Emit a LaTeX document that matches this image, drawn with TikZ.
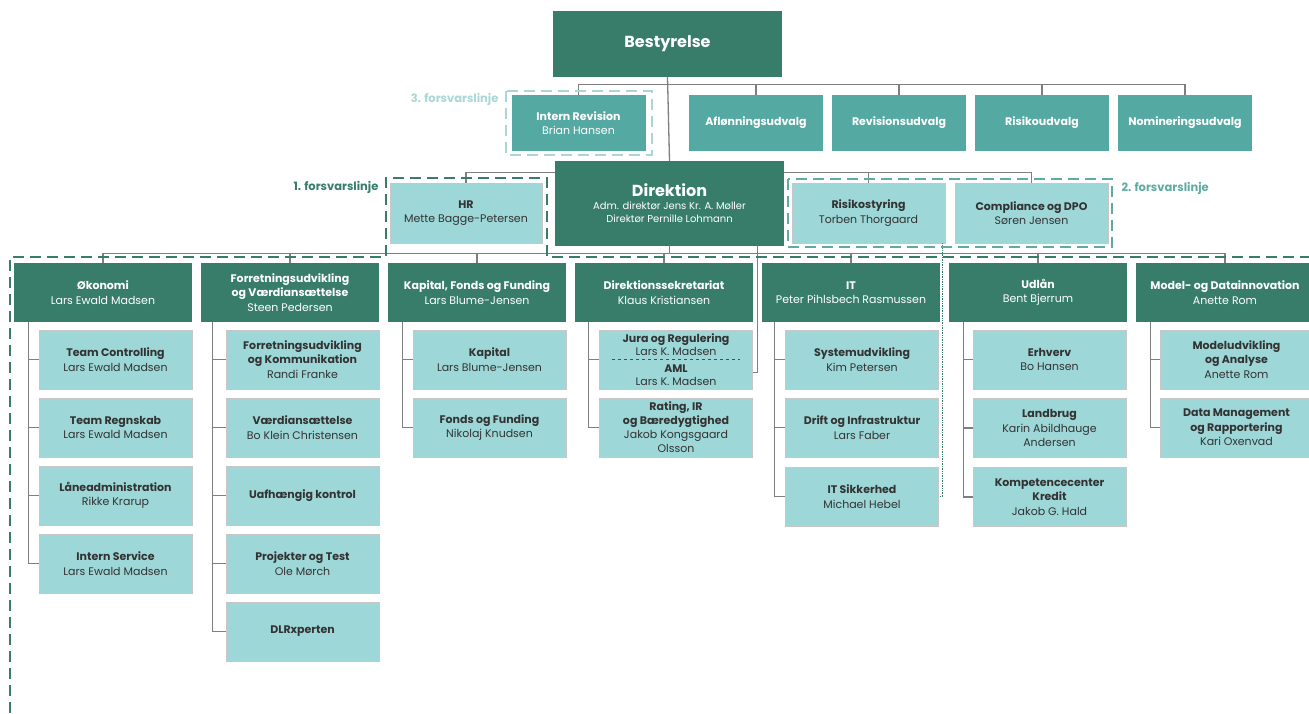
\documentclass[tikz,border=0pt]{standalone}
\usepackage{fontspec}
\setmainfont{Poppins}
\usepackage{tikz}
\usetikzlibrary{calc}
\usetikzlibrary{backgrounds}
\definecolor{darkteal}{HTML}{377D6A}
\definecolor{midteal}{HTML}{55A9A3}
\definecolor{lightteal}{HTML}{9DD7D8}
\definecolor{lineteal}{HTML}{5EABA3}
\definecolor{paleteal}{HTML}{A9D6D6}
\definecolor{conngray}{HTML}{7F7F7F}
\definecolor{textgray}{HTML}{333333}

\begin{document}
\begin{tikzpicture}[x=1pt, y=-1pt,
    board/.style={fill=darkteal, text=white, align=center, minimum width=229pt, minimum height=66pt, font=\fontsize{16}{19}\selectfont\bfseries},
    dirbox/.style={fill=darkteal, text=white, align=center, minimum width=229pt, minimum height=85pt, inner sep=1pt, font=\fontsize{10}{13}\selectfont},
    udv/.style={fill=midteal, text=white, align=center, minimum width=134pt, minimum height=56pt, font=\fontsize{11}{14}\selectfont\bfseries},
    head/.style={fill=darkteal, text=white, align=center, minimum width=178pt, minimum height=59pt, inner sep=1pt, font=\fontsize{11}{14.5}\selectfont},
    unit/.style={fill=lightteal, draw=black!22, line width=0.6pt, text=textgray, align=center, minimum width=153pt, minimum height=59pt, inner sep=1pt, font=\fontsize{11}{14.5}\selectfont},
    conn/.style={draw=conngray, line width=1.3pt},
    dotline/.style={draw=darkteal, line width=0.7pt, densely dotted},
    lbl/.style={font=\fontsize{11.5}{14}\selectfont\bfseries},
    frameone/.style={draw=darkteal, line width=2pt, dash pattern=on 11pt off 6pt},
    frametwo/.style={draw=lineteal, line width=2.4pt, dash pattern=on 11pt off 6pt},
    framethree/.style={draw=paleteal, line width=2.4pt, dash pattern=on 11pt off 6pt}
]
\useasboundingbox (0,0) rectangle (1309,713);

    % Board and committees
    \node[board] (best) at (667.5,44) {Bestyrelse};
    \node[udv, font=\fontsize{11}{14.5}\selectfont] (intrev) at (578.5,123) {\textbf{Intern Revision}\\Brian Hansen};
    \node[udv] (afl) at (756,123) {Aflønningsudvalg};
    \node[udv] (revu) at (899,123) {Revisionsudvalg};
    \node[udv] (risu) at (1042,123) {Risikoudvalg};
    \node[udv] (nom) at (1185,123) {Nomineringsudvalg};

    % Management and staff
    \node[dirbox] (dir) at (669.5,203.5) {{\fontsize{16}{19}\selectfont\bfseries Direktion}\\Adm. direktør Jens Kr. A. Møller\\Direktør Pernille Lohmann};
    \node[unit, minimum width=152pt, minimum height=60pt] (hr) at (466,213) {\textbf{HR}\\Mette Bagge-Petersen};
    \node[unit, minimum width=153pt, minimum height=60pt] (risk) at (868.5,213) {\textbf{Risikostyring}\\Torben Thorgaard};
    \node[unit, minimum width=153pt, minimum height=60pt] (comp) at (1031.5,213) {\textbf{Compliance og DPO}\\Søren Jensen};

    % Defence line labels
    \node[lbl, text=paleteal, anchor=east] (lthree) at (502,99) {3. forsvarslinje};
    \node[lbl, text=darkteal, anchor=east] (lone) at (382,187) {1. forsvarslinje};
    \node[lbl, text=lineteal, anchor=west] (ltwo) at (1118,188) {2. forsvarslinje};

    % Departments
    \node[head] (oko) at (103,292.5) {\textbf{Økonomi}\\Lars Ewald Madsen};
    \node[head] (forr) at (290,292.5) {\textbf{Forretningsudvikling}\\\textbf{og Værdiansættelse}\\Steen Pedersen};
    \node[head] (kap) at (477,292.5) {\textbf{Kapital, Fonds og Funding}\\Lars Blume-Jensen};
    \node[head] (sekr) at (664,292.5) {\textbf{Direktionssekretariat}\\Klaus Kristiansen};
    \node[head] (it) at (851,292.5) {\textbf{IT}\\Peter Pihlsbech Rasmussen};
    \node[head] (udl) at (1038,292.5) {\textbf{Udlån}\\Bent Bjerrum};
    \node[head] (mdl) at (1225,292.5) {\textbf{Model- og Datainnovation}\\Anette Rom};

    % Units under Økonomi
    \node[unit] (oko1) at (115.5,359.5) {\textbf{Team Controlling}\\Lars Ewald Madsen};
    \node[unit] (oko2) at (115.5,427.5) {\textbf{Team Regnskab}\\Lars Ewald Madsen};
    \node[unit] (oko3) at (115.5,495.5) {\textbf{Låneadministration}\\Rikke Krarup};
    \node[unit] (oko4) at (115.5,563.5) {\textbf{Intern Service}\\Lars Ewald Madsen};

    % Units under Forretningsudvikling
    \node[unit] (forr1) at (302.5,359.5) {\textbf{Forretningsudvikling}\\\textbf{og Kommunikation}\\Randi Franke};
    \node[unit] (forr2) at (302.5,427.5) {\textbf{Værdiansættelse}\\Bo Klein Christensen};
    \node[unit] (forr3) at (302.5,495.5) {\textbf{Uafhængig kontrol}};
    \node[unit] (forr4) at (302.5,563.5) {\textbf{Projekter og Test}\\Ole Mørch};
    \node[unit] (forr5) at (302.5,631.5) {\textbf{DLRxperten}};

    % Units under Kapital
    \node[unit] (kap1) at (489.5,359.5) {\textbf{Kapital}\\Lars Blume-Jensen};
    \node[unit] (kap2) at (489.5,427.5) {\textbf{Fonds og Funding}\\Nikolaj Knudsen};

    % Units under Direktionssekretariat
    \node[unit, font=\fontsize{11}{13.5}\selectfont] (jura) at (676,359.5) {\textbf{Jura og Regulering}\\Lars K. Madsen\\[3pt]\textbf{AML}\\Lars K. Madsen};
    \draw[black!70, line width=0.5pt, dashed] ([xshift=13pt]jura.west) -- ([xshift=-13pt]jura.east);
    \node[unit, font=\fontsize{11}{14}\selectfont] (rating) at (676,427.5) {\textbf{Rating, IR}\\\textbf{og Bæredygtighed}\\Jakob Kongsgaard\\Olsson};

    % Units under IT
    \node[unit] (sysud) at (862,359.5) {\textbf{Systemudvikling}\\Kim Petersen};
    \node[unit] (drift) at (862,427.5) {\textbf{Drift og Infrastruktur}\\Lars Faber};
    \node[unit] (itsik) at (862,496.5) {\textbf{IT Sikkerhed}\\Michael Hebel};

    % Units under Udlån
    \node[unit] (erhv) at (1049.5,359.5) {\textbf{Erhverv}\\Bo Hansen};
    \node[unit] (landb) at (1049.5,428) {\textbf{Landbrug}\\Karin Abildhauge\\Andersen};
    \node[unit] (kompc) at (1049.5,497) {\textbf{Kompetencecenter}\\\textbf{Kredit}\\Jakob G. Hald};

    % Units under Model- og Datainnovation
    \node[unit] (modud) at (1236.5,359.5) {\textbf{Modeludvikling}\\\textbf{og Analyse}\\Anette Rom};
    \node[unit] (datam) at (1236.5,427.5) {\textbf{Data Management}\\\textbf{og Rapportering}\\Kari Oxenvad};

    % Connectors
    \begin{scope}[on background layer]
    \draw[conn] (best.south) -- (dir.north);
    \path (best.south) ++(0,7) coordinate (bbus);
    \draw[conn] (bbus) -| (intrev.north);
    \draw[conn] (bbus) -| (afl.north);
    \draw[conn] (bbus) -| (revu.north);
    \draw[conn] (bbus) -| (risu.north);
    \draw[conn] (bbus) -| (nom.north);

    \draw[conn] (hr.north) -- ++(0,-10) -| (comp.north);
    \draw[conn] (risk.north) -- ++(0,-10);

    \draw[conn] (dir.south) -- ++(0,7) coordinate (dbus);
    \draw[conn] (dbus) -| (oko.north);
    \draw[conn] (dbus) -| (forr.north);
    \draw[conn] (dbus) -| (kap.north);
    \draw[conn] (dbus) -| (sekr.north);
    \draw[conn] (dbus) -| (it.north);
    \draw[conn] (dbus) -| (udl.north);
    \draw[conn] (dbus) -| (mdl.north);
    \draw[conn] ([xshift=-27pt]dir.south east) |- ([yshift=-13pt]jura.east);
    \end{scope}

    \draw[conn] ([xshift=15pt]oko.south west) |- (oko1.west);
    \draw[conn] ([xshift=15pt]oko.south west) |- (oko2.west);
    \draw[conn] ([xshift=15pt]oko.south west) |- (oko3.west);
    \draw[conn] ([xshift=15pt]oko.south west) |- (oko4.west);

    \draw[conn] ([xshift=12pt]forr.south west) |- (forr1.west);
    \draw[conn] ([xshift=12pt]forr.south west) |- (forr2.west);
    \draw[conn] ([xshift=12pt]forr.south west) |- (forr3.west);
    \draw[conn] ([xshift=12pt]forr.south west) |- (forr4.west);
    \draw[conn] ([xshift=12pt]forr.south west) |- (forr5.west);

    \draw[conn] ([xshift=15pt]kap.south west) |- (kap1.west);
    \draw[conn] ([xshift=15pt]kap.south west) |- (kap2.west);

    \draw[conn] ([xshift=14pt]sekr.south west) |- (jura.west);
    \draw[conn] ([xshift=14pt]sekr.south west) |- (rating.west);

    \draw[conn] ([xshift=13pt]it.south west) |- (sysud.west);
    \draw[conn] ([xshift=13pt]it.south west) |- (drift.west);
    \draw[conn] ([xshift=13pt]it.south west) |- (itsik.west);

    \draw[conn] ([xshift=15pt]udl.south west) |- (erhv.west);
    \draw[conn] ([xshift=15pt]udl.south west) |- (landb.west);
    \draw[conn] ([xshift=15pt]udl.south west) |- (kompc.west);

    \draw[conn] ([xshift=15pt]mdl.south west) |- (modud.west);
    \draw[conn] ([xshift=15pt]mdl.south west) |- (datam.west);

    % Dotted reporting line
    \draw[dotline] ([xshift=-3pt]risk.south east) |- (itsik.east);

    % Defence line frames
    \draw[framethree] (506,91) rectangle (652,155);
    \draw[frametwo] (788,179) rectangle (1112,247);
    \draw[frameone] (10,713) -- (10,257) -- (386,257) -- (386,178) -- (547,178) -- (547,257) -- (1309,257);

\end{tikzpicture}
\end{document}
